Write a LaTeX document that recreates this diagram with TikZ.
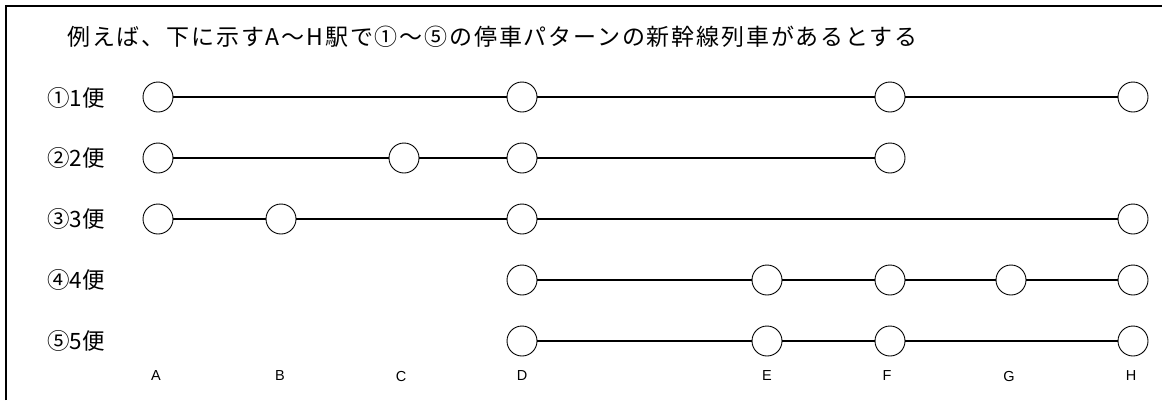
\documentclass[tikz,border=0pt]{standalone}
\usepackage{fontspec}
\newfontfamily\jp{Noto Sans CJK JP}
\newfontfamily\jpwide[LetterSpace=8]{Noto Sans CJK JP}
\newfontfamily\lat{Liberation Sans}
\begin{document}
\begin{tikzpicture}[x=1pt,y=-1pt,
  stop/.style={circle,draw,line width=0.9pt,minimum size=30pt,inner sep=0pt,fill=white},
  run/.style={line width=2.2pt},
  rowlabel/.style={anchor=west,inner sep=0pt,font=\jp\fontsize{22.5}{24}\selectfont},
  stn/.style={font=\lat\fontsize{14.5}{16}\selectfont,inner sep=0pt}]
\useasboundingbox (0,0) rectangle (1162,400);
\draw[line width=2.2pt] (6,400) -- (6,6) -- (1162,6);
\node[anchor=west,inner sep=0pt,font=\jpwide\fontsize{23}{26}\selectfont] (title) at (67,37) {例えば、下に示すA～H駅で①～⑤の停車パターンの新幹線列車があるとする};
% row labels
\node[rowlabel] (l1) at (47,98) {①1便};
\node[rowlabel] (l2) at (47,158) {②2便};
\node[rowlabel] (l3) at (47,219) {③3便};
\node[rowlabel] (l4) at (47,280) {④4便};
\node[rowlabel] (l5) at (47,341) {⑤5便};
% station labels
\node[stn] (sA) at (156,376) {A};
\node[stn] (sB) at (280,376) {B};
\node[stn] (sC) at (401,376) {C};
\node[stn] (sD) at (522,376) {D};
\node[stn] (sE) at (767,376) {E};
\node[stn] (sF) at (887,376) {F};
\node[stn] (sG) at (1009,376) {G};
\node[stn] (sH) at (1131,376) {H};
% row 1
\node[stop] (a1) at (158,97) {};
\node[stop] (d1) at (522,97) {};
\node[stop] (f1) at (890,97) {};
\node[stop] (h1) at (1133,97) {};
\draw[run] (a1) -- (d1) -- (f1) -- (h1);
% row 2
\node[stop] (a2) at (158,158) {};
\node[stop] (c2) at (404,158) {};
\node[stop] (d2) at (522,158) {};
\node[stop] (f2) at (890,158) {};
\draw[run] (a2) -- (c2) -- (d2) -- (f2);
% row 3
\node[stop] (a3) at (158,219) {};
\node[stop] (b3) at (281,219) {};
\node[stop] (d3) at (522,219) {};
\node[stop] (h3) at (1133,219) {};
\draw[run] (a3) -- (b3) -- (d3) -- (h3);
% row 4
\node[stop] (d4) at (522,280) {};
\node[stop] (e4) at (767,280) {};
\node[stop] (f4) at (890,280) {};
\node[stop] (g4) at (1011,280) {};
\node[stop] (h4) at (1133,280) {};
\draw[run] (d4) -- (e4) -- (f4) -- (g4) -- (h4);
% row 5
\node[stop] (d5) at (522,341) {};
\node[stop] (e5) at (767,341) {};
\node[stop] (f5) at (890,341) {};
\node[stop] (h5) at (1133,341) {};
\draw[run] (d5) -- (e5) -- (f5) -- (h5);
\end{tikzpicture}
\end{document}
